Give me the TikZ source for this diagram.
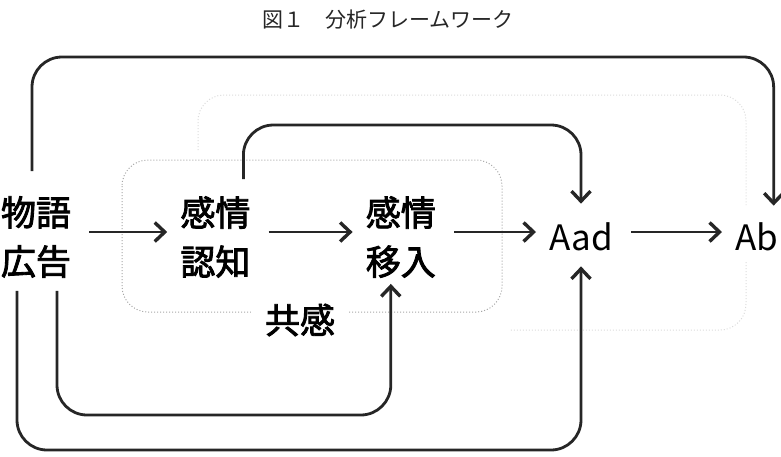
\documentclass[tikz,border=0pt]{standalone}
\usepackage{fontspec}
\setmainfont{Noto Sans CJK JP}
\newfontfamily\heavyjp{Noto Sans CJK JP}[FakeBold=2.4]
\usetikzlibrary{arrows.meta, positioning}

\begin{document}
\begin{tikzpicture}[x=1pt, y=-1pt,
      word/.style={font=\fontsize{35}{49}\selectfont, inner sep=0pt, align=center},
      kanji/.style={word, font=\heavyjp\fontsize{35}{49}\selectfont},
      arr/.style={-{Straight Barb[length=10pt, width=19pt, line width=3.4pt]}, line width=2.8pt, black!85},
      flow/.style={arr, shorten <=18pt, shorten >=13pt},
      loop/.style={arr, rounded corners=30pt},
      group/.style={draw=black!35, dotted, line width=1pt, rounded corners=26pt}]
    \useasboundingbox (0,0) rectangle (781,456);
    \node[font=\fontsize{21}{21}\selectfont, text=black!85] (title) at (388,20) {図１　分析フレームワーク};
    % faint groups behind
    \draw[group] (122,160) rectangle (502,312);
    \draw[group, draw=black!14] (198,150) |- (746,95) -- (746,205);
    \draw[group, draw=black!14] (746,262) |- (510,330);
    \node[kanji, fill=white, inner xsep=14pt, inner ysep=2pt] (empathy) at (300,320) {共感};
    % main chain
    \node[kanji] (story) at (36,237) {物語\\広告};
    \node[kanji, right=109pt of story] (cog) {感情\\認知};
    \node[kanji, right=115pt of cog] (moved) {感情\\移入};
    \node[word, right=113pt of moved] (aad) {Aad};
    \node[word, right=122pt of aad] (ab) {Ab};
    \draw[flow] ([yshift=5pt]story.east) -- ([yshift=5pt]cog.west);
    \draw[flow] ([yshift=5pt]cog.east) -- ([yshift=5pt]moved.west);
    \draw[flow] ([yshift=5pt]moved.east) -- ([yshift=5pt]aad.west);
    \draw[flow] ([yshift=5pt]aad.east) -- ([yshift=5pt]ab.west);
    % loops round the chain
    \coordinate (hiA) at (0,57);
    \coordinate (hiB) at (0,125);
    \coordinate (loA) at (0,450);
    \coordinate (loB) at (0,415);
    \path ([xshift=-4pt, yshift=25pt]story.north) coordinate (s1)
          ([xshift=17pt, yshift=17pt]ab.north) coordinate (e1)
          ([xshift=28pt, yshift=17pt]cog.north) coordinate (s2)
          ([yshift=19pt]aad.north) coordinate (e2)
          ([xshift=-19pt, yshift=-13pt]story.south) coordinate (s3)
          ([yshift=-15pt]aad.south) coordinate (e3)
          ([xshift=21pt, yshift=-13pt]story.south) coordinate (s4)
          ([xshift=-10pt, yshift=-6pt]moved.south) coordinate (e4);
    \draw[loop] (s1) |- (hiA -| e1) -- (e1);
    \draw[loop] (s2) |- (hiB -| e2) -- (e2);
    \draw[loop] (s3) |- (loA -| e3) -- (e3);
    \draw[loop] (s4) |- (loB -| e4) -- (e4);
  \end{tikzpicture}
\end{document}
